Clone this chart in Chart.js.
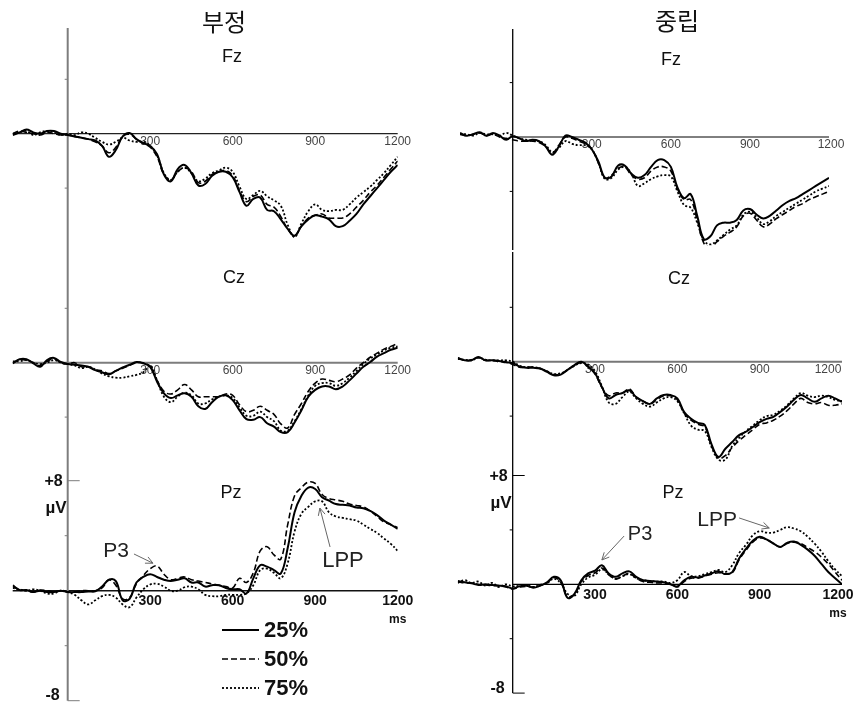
<!DOCTYPE html>
<html>
<head>
<meta charset="utf-8">
<script src="https://cdn.jsdelivr.net/npm/chart.js@4.4.0/dist/chart.umd.min.js"></script>
<style>
  body { margin: 0; background: #fff; }
  #wrap { position: relative; width: 855px; height: 706px; }
  #wrap canvas { position: absolute; left: 0; top: 0; }
</style>
</head>
<body>
<div id="wrap"></div>
<script>
// time points (ms)
const times = [-200,-175,-150,-125,-100,-75,-50,-25,0,25,50,75,100,125,150,175,200,225,250,275,300,325,350,375,400,425,450,475,500,525,550,575,600,625,650,675,700,725,750,775,800,825,850,875,900,925,950,975,1000,1025,1050,1075,1100,1125,1150,1175,1200];
const conditions = ['25%', '50%', '75%'];
const columnTitles = ['부정', '중립'];
const sites = ['Fz', 'Cz', 'Pz'];
const xTicks = [300, 600, 900, 1200];

// 부정 (negative) column
const negFz25 = [-0.1,0.1,0.3,0.1,0.0,0.2,0.2,0.0, -0.1,-0.2,-0.3,-0.4,-0.5,-0.9,-1.7,-1.2, -0.2,0.05,-0.4,-0.7,-0.9,-1.5,-3.0,-3.5, -2.6,-2.3,-2.9,-3.8,-3.7,-3.1,-2.8,-2.8, -3.2,-4.3,-5.3,-4.8,-4.7,-5.6,-5.7,-6.3, -7.0,-7.5,-6.8,-6.3,-6.0,-6.1,-6.3,-6.8, -6.8,-6.4,-5.9,-5.2,-4.6,-4.0,-3.4,-2.8, -2.3];
const negFz50 = [0.0,0.2,0.1,0.0,-0.1,0.1,0.0,-0.1, -0.1,-0.2,-0.3,-0.4,-0.6,-0.9,-1.4,-1.0, -0.2,-0.05,-0.4,-0.7,-1.0,-1.7,-3.0,-3.4, -2.8,-2.5,-2.8,-3.6,-3.5,-3.0,-2.8,-2.7, -3.1,-4.2,-5.0,-4.6,-4.5,-5.2,-5.4,-6.1, -7.0,-7.5,-6.8,-6.2,-6.0,-5.9,-6.2,-6.2, -6.2,-5.9,-5.4,-4.9,-4.3,-3.8,-3.2,-2.6, -2.0];
const negFz75 = [0.0,0.1,0.2,-0.1,0.1,0.2,0.1,-0.1, 0.0,-0.1,0.1,0.0,-0.3,-0.6,-0.8,-0.6, -0.3,-0.5,-0.6,-0.6,-0.9,-1.6,-2.9,-3.4, -2.8,-2.5,-2.9,-3.5,-3.3,-2.9,-2.7,-2.5, -2.8,-3.9,-4.8,-4.5,-4.2,-4.6,-4.9,-5.3, -6.7,-7.6,-6.6,-5.7,-5.2,-5.6,-5.7,-5.6, -5.6,-5.2,-4.7,-4.3,-3.9,-3.4,-2.9,-2.3, -1.7];

const negCz25 = [-0.05,0.25,0.25,-0.05,-0.3,0.2,0.35,0.05, -0.1,-0.15,-0.2,-0.3,-0.55,-0.7,-0.85,-0.6, -0.35,-0.15,0.05,-0.05,-0.3,-1.4,-2.25,-2.6, -2.4,-2.25,-2.5,-3.2,-3.4,-2.9,-2.5,-2.4, -2.75,-3.5,-4.15,-4.2,-4.0,-4.45,-4.7,-5.1, -5.1,-4.4,-3.5,-2.5,-2.0,-1.75,-1.75,-1.95, -1.75,-1.3,-0.8,-0.3,0.05,0.45,0.7,0.95, 1.1];
const negCz50 = [0.0,0.2,0.2,0.0,-0.2,0.1,0.3,0.0, -0.1,0.0,-0.3,-0.3,-0.5,-0.6,-0.8,-0.6, -0.4,-0.2,0.0,0.0,-0.3,-1.3,-2.1,-2.3, -2.0,-1.6,-2.0,-2.5,-2.5,-2.5,-2.5,-2.3, -2.4,-3.1,-3.6,-3.5,-3.2,-3.5,-3.8,-4.5, -4.8,-3.8,-3.0,-2.1,-1.5,-1.2,-1.3,-1.4, -1.2,-0.9,-0.4,0.0,0.4,0.7,1.0,1.2, 1.4];
const negCz75 = [0.1,0.1,0.2,0.0,-0.1,0.0,0.2,0.0, -0.1,-0.2,-0.4,-0.3,-0.5,-0.8,-1.0,-1.1, -1.1,-1.0,-0.9,-0.7,-0.2,-1.3,-2.5,-2.9, -2.5,-2.2,-2.4,-3.0,-3.0,-2.7,-2.5,-2.4, -2.6,-3.3,-3.9,-3.9,-3.6,-4.0,-4.3,-5.0, -5.0,-4.3,-3.4,-2.4,-1.7,-1.5,-1.5,-1.7, -1.5,-1.1,-0.6,-0.1,0.3,0.6,0.9,1.1, 1.2];

const negPz25 = [0.4,0.05,0.05,-0.1,0.0,-0.1,-0.1,0.0, -0.1,-0.1,-0.1,-0.05,-0.05,0.3,0.8,0.7, -0.7,-0.6,0.6,1.0,1.2,1.0,0.8,0.7, 0.8,0.9,0.6,0.6,0.3,0.4,0.4,0.2, 0.1,0.1,-0.2,0.9,1.85,1.75,1.5,1.25, 3.1,5.7,6.9,7.5,7.4,6.8,6.55,6.3, 6.25,6.2,6.05,6.0,5.8,5.5,5.1,4.8, 4.5];
const negPz50 = [0.3,0.1,0.0,-0.1,0.05,0.0,-0.1,0.0, -0.1,-0.1,0.0,0.0,0.0,0.2,0.8,0.4, -0.6,-0.5,0.5,1.1,1.6,1.8,1.2,0.8, 0.9,1.0,0.8,0.7,0.6,0.5,0.4,0.3, 0.2,0.9,0.6,1.3,2.9,3.2,2.6,2.3, 4.8,6.9,7.5,7.9,7.8,7.0,6.7,6.6, 6.5,6.3,6.2,6.1,5.8,5.4,5.0,4.8, 4.6];
const negPz75 = [0.2,0.1,0.0,0.1,0.0,-0.2,-0.2,0.0, -0.1,-0.3,-0.7,-1.0,-0.7,-0.4,-0.3,-0.5, -1.0,-1.2,-0.5,0.1,0.45,0.5,0.3,0.0, 0.0,0.25,0.3,0.1,-0.3,-0.4,-0.4,-0.3, -0.3,-0.3,-0.2,0.4,1.5,1.6,1.3,0.9, 2.0,4.3,5.6,6.1,6.5,6.5,5.7,5.4, 5.3,5.2,5.1,4.8,4.5,4.2,3.8,3.4, 2.9];

// 중립 (neutral) column
const neuFz25 = [0.3,0.1,0.2,0.35,0.1,0.3,0.1,-0.2, 0.05,-0.1,-0.3,-0.2,-0.3,-0.7,-1.3,-0.7, 0.1,0.0,-0.2,-0.4,-0.9,-1.8,-3.0,-2.9, -2.1,-2.1,-2.7,-3.0,-2.8,-2.2,-1.7,-1.7, -2.2,-3.7,-4.5,-4.2,-5.8,-7.5,-7.3,-6.5, -6.3,-6.3,-6.1,-5.4,-5.3,-5.7,-6.0,-5.8, -5.4,-5.0,-4.7,-4.5,-4.2,-3.9,-3.6,-3.3, -3.0];
const neuFz50 = [0.2,0.1,0.2,0.3,0.1,0.2,0.0,-0.1, -0.2,-0.3,-0.3,-0.3,-0.4,-0.7,-1.2,-0.6, 0.0,-0.1,-0.3,-0.5,-0.9,-1.9,-3.0,-2.8, -2.3,-2.2,-2.8,-3.1,-3.0,-2.5,-2.2,-2.2, -2.5,-3.8,-4.6,-4.6,-6.1,-7.8,-8.1,-7.7, -7.3,-7.0,-6.6,-5.8,-5.6,-6.1,-6.6,-6.4, -6.0,-5.7,-5.4,-5.1,-4.9,-4.6,-4.4,-4.2, -4.0];
const neuFz75 = [0.2,0.2,0.1,0.3,0.2,0.2,0.1,0.3, 0.1,-0.1,-0.2,-0.3,-0.3,-0.6,-1.1,-0.8, -0.3,-0.5,-0.6,-0.6,-0.9,-1.9,-3.1,-3.0, -2.4,-2.2,-2.7,-3.6,-3.4,-3.1,-2.9,-2.8, -2.9,-4.0,-5.0,-5.2,-6.3,-7.6,-7.9,-7.6, -7.2,-6.8,-6.5,-5.7,-5.5,-5.9,-6.4,-6.2, -5.8,-5.5,-5.2,-4.9,-4.6,-4.3,-4.0,-3.8, -3.6];

const neuCz25 = [0.25,0.1,0.1,0.35,0.1,0.1,0.05,-0.05, -0.1,-0.35,-0.45,-0.45,-0.5,-0.75,-1.0,-0.95, -0.6,-0.25,0.0,-0.35,-0.85,-1.85,-2.7,-2.45, -2.3,-2.1,-2.6,-2.9,-3.1,-2.7,-2.45,-2.45, -2.7,-3.7,-4.2,-4.5,-4.65,-6.1,-7.0,-6.4, -5.9,-5.4,-5.15,-4.8,-4.45,-4.2,-4.05,-3.7, -3.3,-2.8,-2.45,-2.7,-2.95,-2.7,-2.5,-2.7, -2.95];
const neuCz50 = [0.3,0.1,0.15,0.3,0.1,0.1,0.0,0.0, -0.2,-0.4,-0.4,-0.4,-0.5,-0.7,-0.95,-0.9, -0.6,-0.3,-0.05,-0.4,-0.9,-1.9,-2.5,-2.3, -2.3,-2.0,-2.6,-2.9,-3.1,-2.8,-2.5,-2.5, -2.8,-3.8,-4.3,-4.6,-4.8,-6.2,-7.1,-6.9, -6.3,-5.8,-5.4,-5.0,-4.6,-4.5,-4.3,-4.0, -3.6,-3.1,-2.7,-3.0,-3.1,-3.0,-3.2,-3.2, -3.1];
const neuCz75 = [0.2,0.15,0.1,0.3,0.15,0.1,0.1,0.1, 0.0,-0.3,-0.4,-0.4,-0.5,-0.7,-0.9,-0.85, -0.6,-0.3,-0.1,-0.2,-0.7,-1.8,-3.0,-3.1, -2.6,-2.2,-2.7,-3.1,-3.3,-3.0,-2.7,-2.6, -2.9,-3.8,-4.7,-5.0,-5.1,-6.3,-7.2,-7.2, -6.2,-5.6,-5.1,-4.7,-4.3,-4.0,-3.9,-3.6, -3.2,-2.7,-2.3,-2.5,-2.6,-2.5,-2.6,-2.8, -2.9];

const neuPz25 = [0.25,0.15,0.07,-0.05,0.0,-0.05,-0.1,-0.15, -0.3,-0.15,-0.1,-0.25,-0.1,0.15,0.55,0.3, -1.0,-0.7,0.3,0.8,1.0,1.4,0.8,0.55, 0.8,0.95,0.55,0.3,0.25,0.2,0.15,0.0, -0.15,0.3,0.55,0.5,0.65,0.8,0.95,0.75, 0.9,1.9,2.6,3.2,3.5,3.3,3.0,2.75, 3.05,3.15,2.9,2.55,2.1,1.5,0.9,0.45, 0.0];
const neuPz50 = [0.2,0.1,0.1,0.0,-0.05,-0.1,-0.1,-0.2, -0.35,-0.2,-0.15,-0.2,-0.1,0.1,0.5,0.15, -0.9,-0.75,0.2,0.65,0.85,1.2,0.7,0.4, 0.6,0.8,0.45,0.2,0.15,0.1,0.1,0.0, -0.2,0.2,0.45,0.45,0.6,0.75,0.85,0.75, 0.85,1.8,2.5,3.1,3.4,3.3,3.0,2.75, 3.0,3.1,3.0,2.7,2.4,2.0,1.5,0.9, 0.3];
const neuPz75 = [0.1,0.3,0.1,0.2,-0.1,0.1,-0.2,0.0, -0.15,-0.1,-0.05,-0.2,-0.05,0.1,0.4,0.1, -0.7,-0.85,0.0,0.5,0.7,1.1,0.75,0.4, 0.6,0.75,0.45,0.3,0.25,0.2,0.2,0.1, 0.3,0.9,0.6,0.6,0.75,0.9,1.05,0.9, 1.4,2.3,2.9,3.6,3.9,3.8,3.8,4.0, 4.2,4.1,3.9,3.5,3.0,2.4,1.7,1.1, 0.6];

// line styles for the three conditions
const lineStyles = [
  { width: 2, dash: [] },
  { width: 1.6, dash: [6, 3] },
  { width: 1.8, dash: [2, 2] }
];

// panel layout (page pixels)
const panels = [
  { id: 'negFz', col: 0, site: 0, series: [negFz25, negFz50, negFz75], area: [12.7, 397.7, 24.9, 242.5], axisSpan: [28, 254], axisColor: '#7d7d7d', axisWidth: 2, baseColor: '#222', baseWidth: 1.2, baseFrom: -200, lastShift: 0, label: [232, 57], title: [224, 22] },
  { id: 'negCz', col: 0, site: 1, series: [negCz25, negCz50, negCz75], area: [12.7, 397.7, 253.9, 471.5], axisSpan: [254, 481], axisColor: '#7d7d7d', axisWidth: 2, baseColor: '#7d7d7d', baseWidth: 2, baseFrom: -200, lastShift: 0, label: [234, 278] },
  { id: 'negPz', col: 0, site: 2, series: [negPz25, negPz50, negPz75], area: [12.7, 397.7, 480.7, 700.7], axisSpan: [481, 700.7], axisColor: '#7d7d7d', axisWidth: 2, baseColor: '#111', baseWidth: 1.5, baseFrom: -200, lastShift: 0, label: [231, 493] },
  { id: 'neuFz', col: 1, site: 0, series: [neuFz25, neuFz50, neuFz75], area: [460, 829, 28.2, 245.8], axisSpan: [29, 250], axisColor: '#000', axisWidth: 1.3, baseColor: '#000', baseWidth: 1, baseFrom: 0, lastShift: 2, label: [671, 60], title: [677, 21] },
  { id: 'neuCz', col: 1, site: 1, series: [neuCz25, neuCz50, neuCz75], area: [457.8, 842, 252.9, 470.5], axisSpan: [252, 476], axisColor: '#000', axisWidth: 1.3, baseColor: '#777', baseWidth: 2, baseFrom: 0, lastShift: -14, label: [679, 279] },
  { id: 'neuPz', col: 1, site: 2, series: [neuPz25, neuPz50, neuPz75], area: [457.8, 842, 475.5, 693.1], axisSpan: [476, 693.1], axisColor: '#000', axisWidth: 1.3, baseColor: '#000', baseWidth: 1.3, baseFrom: 0, lastShift: -4, label: [673, 493] }
];

// component annotations (data coordinates: ms, µV)
const notes = [
  { panel: 'negPz', text: 'P3', at: [176, 2.89], tail: [241, 2.67], tip: [310, 2.0], size: 21 },
  { panel: 'negPz', text: 'LPP', at: [1001, 2.16], tail: [954, 3.18], tip: [917, 6.01], size: 22 },
  { panel: 'neuPz', text: 'P3', at: [464, 3.63], tail: [406, 3.55], tip: [325, 1.79], size: 20 },
  { panel: 'neuPz', text: 'LPP', at: [745, 4.73], tail: [825, 4.88], tip: [935, 4.14], size: 21 }
];

const W = 855, H = 706;
const SANS = '"Liberation Sans", Arial, sans-serif';

function seg(ctx, x1, y1, x2, y2) {
  ctx.beginPath(); ctx.moveTo(x1, y1); ctx.lineTo(x2, y2); ctx.stroke();
}

function arrow(ctx, x1, y1, x2, y2) {
  seg(ctx, x1, y1, x2, y2);
  const a = Math.atan2(y2 - y1, x2 - x1), L = 8, s = 0.45;
  seg(ctx, x2, y2, x2 - L * Math.cos(a - s), y2 - L * Math.sin(a - s));
  seg(ctx, x2, y2, x2 - L * Math.cos(a + s), y2 - L * Math.sin(a + s));
}

const framePlugin = {
  id: 'frame',
  beforeDatasetsDraw(chart, args, opts) {
    const p = opts.panel;
    const { ctx } = chart;
    const x = chart.scales.x, y = chart.scales.y;
    const x0 = x.getPixelForValue(0), yb = y.getPixelForValue(0);
    const isPz = p.site === 2;
    ctx.save();
    // baseline
    ctx.strokeStyle = p.baseColor; ctx.lineWidth = p.baseWidth;
    seg(ctx, x.getPixelForValue(p.baseFrom), yb, x.getPixelForValue(1200), yb);
    // vertical axis
    ctx.strokeStyle = p.axisColor; ctx.lineWidth = p.axisWidth;
    seg(ctx, x0, p.axisSpan[0], x0, p.axisSpan[1]);
    ctx.lineWidth = 1;
    [-4, 4].forEach(v => { const yy = y.getPixelForValue(v); seg(ctx, x0 - 3, yy, x0, yy); });
    ctx.fillStyle = '#111';
    if (isPz) {
      [8, -8].forEach(v => { const yy = y.getPixelForValue(v); seg(ctx, x0, yy, x0 + 12, yy); });
      ctx.textAlign = 'right'; ctx.textBaseline = 'middle';
      ctx.font = 'bold 16px ' + SANS;
      ctx.fillText('+8', x0 - 5, y.getPixelForValue(8) + 1);
      ctx.fillText('-8', x0 - 8, y.getPixelForValue(-8) - 5);
      ctx.font = 'bold 17px ' + SANS;
      ctx.fillText('µV', x0 - 1, y.getPixelForValue(8) + 28);
    }
    // x tick labels
    ctx.textAlign = 'center'; ctx.textBaseline = 'middle';
    if (isPz) {
      ctx.font = 'bold 14px ' + SANS; ctx.fillStyle = '#111';
    } else {
      ctx.font = '12px ' + SANS; ctx.fillStyle = '#444';
    }
    xTicks.forEach((t, i) => {
      const shift = i === xTicks.length - 1 ? p.lastShift : 0;
      ctx.fillText(String(t), x.getPixelForValue(t) + shift, yb + (isPz ? 10.5 : 7.5));
    });
    if (isPz) {
      ctx.font = 'bold 12px ' + SANS;
      ctx.fillText('ms', x.getPixelForValue(1200) + p.lastShift, yb + 29);
    }
    // site label
    ctx.fillStyle = '#111'; ctx.font = '18px ' + SANS;
    ctx.fillText(sites[p.site], p.label[0], p.label[1]);
    // column title
    if (p.title) {
      ctx.font = '24px "Noto Sans CJK KR", sans-serif';
      ctx.fillText(columnTitles[p.col], p.title[0], p.title[1]);
    }
    ctx.restore();
  },
  afterDatasetsDraw(chart, args, opts) {
    const p = opts.panel;
    const { ctx } = chart;
    const x = chart.scales.x, y = chart.scales.y;
    ctx.save();
    notes.filter(n => n.panel === p.id).forEach(n => {
      ctx.font = n.size + 'px ' + SANS; ctx.fillStyle = '#222';
      ctx.textAlign = 'center'; ctx.textBaseline = 'middle';
      ctx.fillText(n.text, x.getPixelForValue(n.at[0]), y.getPixelForValue(n.at[1]));
      ctx.strokeStyle = '#666'; ctx.lineWidth = 1; ctx.setLineDash([]);
      arrow(ctx, x.getPixelForValue(n.tail[0]), y.getPixelForValue(n.tail[1]),
                 x.getPixelForValue(n.tip[0]), y.getPixelForValue(n.tip[1]));
    });
    // legend under the left Pz panel
    if (p.id === 'negPz') {
      const rows = [631, 660, 689];
      chart.data.datasets.forEach((ds, i) => {
        ctx.strokeStyle = '#000'; ctx.lineWidth = ds.borderWidth;
        ctx.setLineDash(ds.borderDash);
        seg(ctx, 222, rows[i] - 1, 259, rows[i] - 1);
        ctx.setLineDash([]);
        ctx.fillStyle = '#111'; ctx.font = 'bold 22px ' + SANS;
        ctx.textAlign = 'left'; ctx.textBaseline = 'middle';
        ctx.fillText(ds.label, 264, rows[i]);
      });
    }
    ctx.restore();
  }
};

const wrap = document.getElementById('wrap');
panels.forEach(p => {
  const cv = document.createElement('canvas');
  cv.width = W; cv.height = H;
  cv.style.width = W + 'px'; cv.style.height = H + 'px';
  wrap.appendChild(cv);
  new Chart(cv, {
    type: 'line',
    data: {
      datasets: p.series.map((vals, i) => ({
        label: conditions[i],
        data: times.map((t, k) => ({ x: t, y: vals[k] })),
        borderColor: '#000',
        borderWidth: lineStyles[i].width,
        borderDash: lineStyles[i].dash,
        pointRadius: 0,
        tension: 0.4,
        fill: false
      }))
    },
    options: {
      responsive: false,
      animation: false,
      events: [],
      layout: { padding: { left: p.area[0], right: W - p.area[1], top: p.area[2], bottom: H - p.area[3] } },
      scales: {
        x: { type: 'linear', min: -200, max: 1200, display: false },
        y: { min: -8, max: 8, display: false }
      },
      plugins: {
        legend: { display: false },
        tooltip: { enabled: false },
        frame: { panel: p }
      }
    },
    plugins: [framePlugin]
  });
});
</script>
</body>
</html>
